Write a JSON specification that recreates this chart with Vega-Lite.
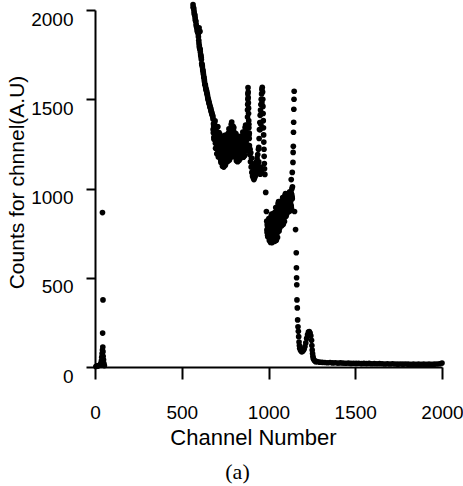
{
"$schema": "https://vega.github.io/schema/vega-lite/v6.json",
"width": 347, "height": 357,
"autosize": {"type": "none"},
"padding": {"left": 95, "top": 10, "right": 21, "bottom": 119},
"background": "white",
"config": {"view": {"stroke": null}},
"title": {"text": "(a)", "orient": "bottom", "anchor": "middle", "font": "Liberation Serif", "fontSize": 22, "fontWeight": "normal", "color": "#000", "dx": -31, "offset": 14},
"data": {"values": [
{"channel":5,"counts":3},{"channel":10,"counts":5},{"channel":15,"counts":5},{"channel":20,"counts":8},{"channel":25,"counts":10},{"channel":30,"counts":12},{"channel":34,"counts":20},{"channel":37,"counts":35},{"channel":39,"counts":55},{"channel":41,"counts":75},{"channel":43,"counts":95},{"channel":45,"counts":112},{"channel":46,"counts":85},{"channel":47,"counts":60},{"channel":49,"counts":40},{"channel":51,"counts":20},{"channel":54,"counts":8},{"channel":44,"counts":190},{"channel":46,"counts":376},{"channel":43,"counts":865},
{"channel":565,"counts":2030},{"channel":568,"counts":2012},{"channel":571,"counts":1992},{"channel":574,"counts":1975},{"channel":577,"counts":1958},{"channel":580,"counts":1940},{"channel":583,"counts":1920},{"channel":586,"counts":1905},{"channel":589,"counts":1890},{"channel":592,"counts":1880},{"channel":595,"counts":1865},{"channel":600,"counts":1900},{"channel":605,"counts":1880},{"channel":598,"counts":1830},{"channel":601,"counts":1800},{"channel":604,"counts":1781},{"channel":607,"counts":1765},{"channel":610,"counts":1745},{"channel":613,"counts":1722},{"channel":616,"counts":1695},{"channel":619,"counts":1680},{"channel":622,"counts":1660},{"channel":625,"counts":1640},{"channel":628,"counts":1622},{"channel":631,"counts":1600},{"channel":634,"counts":1582},{"channel":637,"counts":1570},{"channel":640,"counts":1555},{"channel":643,"counts":1545},{"channel":646,"counts":1530},{"channel":649,"counts":1515},{"channel":652,"counts":1500},{"channel":655,"counts":1490},{"channel":658,"counts":1478},{"channel":661,"counts":1465},{"channel":664,"counts":1455},{"channel":667,"counts":1445},{"channel":670,"counts":1432},{"channel":673,"counts":1422},{"channel":676,"counts":1412},{"channel":679,"counts":1402},
{"channel":566,"counts":2015},{"channel":569,"counts":2005},{"channel":572,"counts":1980},{"channel":575,"counts":1970},{"channel":578,"counts":1945},{"channel":581,"counts":1935},{"channel":584,"counts":1910},{"channel":587,"counts":1900},{"channel":590,"counts":1880},{"channel":593,"counts":1875},{"channel":596,"counts":1850},{"channel":599,"counts":1815},{"channel":602,"counts":1790},{"channel":606,"counts":1780},{"channel":609,"counts":1750},{"channel":612,"counts":1735},{"channel":615,"counts":1700},{"channel":618,"counts":1690},{"channel":621,"counts":1665},{"channel":624,"counts":1650},{"channel":627,"counts":1625},{"channel":630,"counts":1610},{"channel":633,"counts":1585},{"channel":636,"counts":1580},{"channel":639,"counts":1560},{"channel":642,"counts":1550},{"channel":645,"counts":1535},{"channel":648,"counts":1525},{"channel":651,"counts":1505},{"channel":654,"counts":1495},{"channel":657,"counts":1480},{"channel":660,"counts":1472},{"channel":663,"counts":1458},{"channel":666,"counts":1450},{"channel":669,"counts":1435},{"channel":672,"counts":1428},{"channel":675,"counts":1415},{"channel":678,"counts":1408},
{"channel":680,"counts":1390},{"channel":682,"counts":1312},{"channel":684,"counts":1350},{"channel":686,"counts":1276},{"channel":688,"counts":1359},{"channel":690,"counts":1306},{"channel":692,"counts":1379},{"channel":694,"counts":1253},{"channel":696,"counts":1307},{"channel":698,"counts":1259},{"channel":700,"counts":1345},{"channel":702,"counts":1194},{"channel":704,"counts":1298},{"channel":706,"counts":1258},{"channel":708,"counts":1346},{"channel":710,"counts":1212},{"channel":712,"counts":1285},{"channel":714,"counts":1179},{"channel":716,"counts":1243},{"channel":718,"counts":1290},{"channel":720,"counts":1303},{"channel":722,"counts":1180},{"channel":724,"counts":1244},{"channel":726,"counts":1146},{"channel":728,"counts":1262},{"channel":730,"counts":1198},{"channel":732,"counts":1290},{"channel":734,"counts":1152},{"channel":736,"counts":1218},{"channel":738,"counts":1173},{"channel":740,"counts":1264},{"channel":742,"counts":1120},{"channel":744,"counts":1233},{"channel":746,"counts":1199},{"channel":748,"counts":1298},{"channel":750,"counts":1165},{"channel":752,"counts":1249},{"channel":754,"counts":1142},{"channel":756,"counts":1219},{"channel":758,"counts":1278},{"channel":760,"counts":1301},{"channel":762,"counts":1172},{"channel":764,"counts":1252},{"channel":766,"counts":1152},{"channel":768,"counts":1289},{"channel":770,"counts":1226},{"channel":772,"counts":1334},{"channel":774,"counts":1187},{"channel":776,"counts":1267},{"channel":778,"counts":1223},{"channel":780,"counts":1332},{"channel":782,"counts":1174},{"channel":784,"counts":1300},{"channel":786,"counts":1266},{"channel":788,"counts":1372},{"channel":790,"counts":1236},{"channel":792,"counts":1317},{"channel":794,"counts":1204},{"channel":796,"counts":1275},{"channel":798,"counts":1327},{"channel":800,"counts":1342},{"channel":802,"counts":1211},{"channel":804,"counts":1275},{"channel":806,"counts":1176},{"channel":808,"counts":1287},{"channel":810,"counts":1224},{"channel":812,"counts":1308},{"channel":814,"counts":1179},{"channel":816,"counts":1239},{"channel":818,"counts":1198},{"channel":820,"counts":1278},{"channel":822,"counts":1150},{"channel":824,"counts":1245},{"channel":826,"counts":1215},{"channel":828,"counts":1292},{"channel":830,"counts":1185},{"channel":832,"counts":1250},{"channel":834,"counts":1168},{"channel":836,"counts":1226},{"channel":838,"counts":1270},{"channel":840,"counts":1286},{"channel":842,"counts":1190},{"channel":844,"counts":1250},{"channel":846,"counts":1173},{"channel":848,"counts":1279},{"channel":850,"counts":1230},{"channel":852,"counts":1316},{"channel":854,"counts":1197},{"channel":856,"counts":1262},{"channel":858,"counts":1225},{"channel":860,"counts":1316},{"channel":862,"counts":1184},{"channel":864,"counts":1292},{"channel":866,"counts":1264},{"channel":868,"counts":1356},{"channel":870,"counts":1240},{"channel":872,"counts":1316},{"channel":874,"counts":1224},{"channel":876,"counts":1292},{"channel":878,"counts":1344},
{"channel":681,"counts":1331},{"channel":683,"counts":1363},{"channel":685,"counts":1287},{"channel":687,"counts":1329},{"channel":689,"counts":1371},{"channel":691,"counts":1281},{"channel":693,"counts":1324},{"channel":695,"counts":1225},{"channel":697,"counts":1287},{"channel":699,"counts":1339},{"channel":701,"counts":1223},{"channel":703,"counts":1285},{"channel":705,"counts":1347},{"channel":707,"counts":1230},{"channel":709,"counts":1284},{"channel":711,"counts":1177},{"channel":713,"counts":1232},{"channel":715,"counts":1313},{"channel":717,"counts":1190},{"channel":719,"counts":1280},{"channel":721,"counts":1208},{"channel":723,"counts":1263},{"channel":725,"counts":1157},{"channel":727,"counts":1221},{"channel":729,"counts":1277},{"channel":731,"counts":1172},{"channel":733,"counts":1229},{"channel":735,"counts":1125},{"channel":737,"counts":1200},{"channel":739,"counts":1257},{"channel":741,"counts":1146},{"channel":743,"counts":1215},{"channel":745,"counts":1286},{"channel":747,"counts":1173},{"channel":749,"counts":1236},{"channel":751,"counts":1130},{"channel":753,"counts":1196},{"channel":755,"counts":1292},{"channel":757,"counts":1164},{"channel":759,"counts":1271},{"channel":761,"counts":1199},{"channel":763,"counts":1269},{"channel":765,"counts":1159},{"channel":767,"counts":1239},{"channel":769,"counts":1310},{"channel":771,"counts":1200},{"channel":773,"counts":1270},{"channel":775,"counts":1160},{"channel":777,"counts":1250},{"channel":779,"counts":1320},{"channel":781,"counts":1201},{"channel":783,"counts":1280},{"channel":785,"counts":1359},{"channel":787,"counts":1240},{"channel":789,"counts":1309},{"channel":791,"counts":1198},{"channel":793,"counts":1261},{"channel":795,"counts":1350},{"channel":797,"counts":1219},{"channel":799,"counts":1317},{"channel":801,"counts":1240},{"channel":803,"counts":1296},{"channel":805,"counts":1187},{"channel":807,"counts":1249},{"channel":809,"counts":1300},{"channel":811,"counts":1199},{"channel":813,"counts":1251},{"channel":815,"counts":1155},{"channel":817,"counts":1222},{"channel":819,"counts":1272},{"channel":821,"counts":1172},{"channel":823,"counts":1231},{"channel":825,"counts":1288},{"channel":827,"counts":1193},{"channel":829,"counts":1242},{"channel":831,"counts":1158},{"channel":833,"counts":1209},{"channel":835,"counts":1281},{"channel":837,"counts":1185},{"channel":839,"counts":1264},{"channel":841,"counts":1210},{"channel":843,"counts":1263},{"channel":845,"counts":1180},{"channel":847,"counts":1241},{"channel":849,"counts":1296},{"channel":851,"counts":1209},{"channel":853,"counts":1265},{"channel":855,"counts":1175},{"channel":857,"counts":1248},{"channel":859,"counts":1306},{"channel":861,"counts":1206},{"channel":863,"counts":1274},{"channel":865,"counts":1342},{"channel":867,"counts":1242},{"channel":869,"counts":1302},{"channel":871,"counts":1210},{"channel":873,"counts":1270},{"channel":875,"counts":1354},{"channel":877,"counts":1246},
{"channel":879,"counts":1400},{"channel":879,"counts":1440},{"channel":880,"counts":1470},{"channel":881,"counts":1500},{"channel":881,"counts":1530},{"channel":882,"counts":1565},{"channel":883,"counts":1540},{"channel":883,"counts":1510},{"channel":884,"counts":1480},{"channel":885,"counts":1450},{"channel":885,"counts":1420},{"channel":886,"counts":1380},{"channel":887,"counts":1360},{"channel":887,"counts":1340},{"channel":888,"counts":1300},{"channel":889,"counts":1310},{"channel":889,"counts":1280},
{"channel":890,"counts":1240},{"channel":892,"counts":1190},{"channel":894,"counts":1220},{"channel":896,"counts":1150},{"channel":898,"counts":1200},{"channel":900,"counts":1120},{"channel":902,"counts":1170},{"channel":904,"counts":1090},{"channel":906,"counts":1140},{"channel":908,"counts":1070},{"channel":910,"counts":1120},{"channel":912,"counts":1060},{"channel":914,"counts":1100},{"channel":916,"counts":1050},{"channel":918,"counts":1090},{"channel":920,"counts":1060},{"channel":922,"counts":1110},{"channel":924,"counts":1070},{"channel":926,"counts":1130},{"channel":928,"counts":1080},{"channel":930,"counts":1150},{"channel":932,"counts":1100},{"channel":934,"counts":1170},{"channel":936,"counts":1120},{"channel":938,"counts":1190},{"channel":940,"counts":1140},{"channel":942,"counts":1220},{"channel":944,"counts":1150},{"channel":948,"counts":1100},{"channel":952,"counts":1080},{"channel":956,"counts":1120},{"channel":960,"counts":1090},
{"channel":944,"counts":1230},{"channel":946,"counts":1280},{"channel":948,"counts":1330},{"channel":950,"counts":1370},{"channel":952,"counts":1410},{"channel":954,"counts":1440},{"channel":956,"counts":1470},{"channel":958,"counts":1500},{"channel":960,"counts":1530},{"channel":962,"counts":1555},{"channel":964,"counts":1567},{"channel":952,"counts":1330},{"channel":956,"counts":1360},{"channel":958,"counts":1420},{"channel":962,"counts":1480},
{"channel":966,"counts":1540},{"channel":967,"counts":1500},{"channel":968,"counts":1460},{"channel":969,"counts":1420},{"channel":970,"counts":1380},{"channel":971,"counts":1340},{"channel":972,"counts":1300},{"channel":973,"counts":1260},{"channel":974,"counts":1220},{"channel":975,"counts":1180},{"channel":976,"counts":1140},{"channel":977,"counts":1110},{"channel":979,"counts":1079},{"channel":984,"counts":978},{"channel":988,"counts":871},
{"channel":990,"counts":817},{"channel":992,"counts":754},{"channel":994,"counts":790},{"channel":996,"counts":730},{"channel":998,"counts":805},{"channel":1000,"counts":763},{"channel":1002,"counts":831},{"channel":1004,"counts":729},{"channel":1006,"counts":780},{"channel":1008,"counts":745},{"channel":1010,"counts":823},{"channel":1012,"counts":698},{"channel":1014,"counts":796},{"channel":1016,"counts":765},{"channel":1018,"counts":857},{"channel":1020,"counts":731},{"channel":1022,"counts":811},{"channel":1024,"counts":705},{"channel":1026,"counts":779},{"channel":1028,"counts":838},{"channel":1030,"counts":861},{"channel":1032,"counts":727},{"channel":1034,"counts":809},{"channel":1036,"counts":704},{"channel":1038,"counts":846},{"channel":1040,"counts":780},{"channel":1042,"counts":893},{"channel":1044,"counts":738},{"channel":1046,"counts":820},{"channel":1048,"counts":775},{"channel":1050,"counts":886},{"channel":1052,"counts":726},{"channel":1054,"counts":855},{"channel":1056,"counts":822},{"channel":1058,"counts":927},{"channel":1060,"counts":795},{"channel":1062,"counts":880},{"channel":1064,"counts":778},{"channel":1066,"counts":852},{"channel":1068,"counts":908},{"channel":1070,"counts":928},{"channel":1072,"counts":812},{"channel":1074,"counts":882},{"channel":1076,"counts":792},{"channel":1078,"counts":912},{"channel":1080,"counts":856},{"channel":1082,"counts":949},{"channel":1084,"counts":822},{"channel":1086,"counts":889},{"channel":1088,"counts":853},{"channel":1090,"counts":942},{"channel":1092,"counts":815},{"channel":1094,"counts":916},{"channel":1096,"counts":890},{"channel":1098,"counts":971},{"channel":1100,"counts":869},{"channel":1102,"counts":933},{"channel":1104,"counts":856},{"channel":1106,"counts":912},{"channel":1108,"counts":952},{"channel":1110,"counts":966},{"channel":1112,"counts":882},{"channel":1114,"counts":933},{"channel":1116,"counts":870},{"channel":1118,"counts":955},{"channel":1120,"counts":916},{"channel":1122,"counts":981},{"channel":1124,"counts":891},{"channel":1126,"counts":939},{"channel":1128,"counts":913},{"channel":1130,"counts":978},{"channel":1132,"counts":890},{"channel":1134,"counts":966},{"channel":1136,"counts":952},{"channel":1138,"counts":1010},
{"channel":991,"counts":769},{"channel":993,"counts":800},{"channel":995,"counts":738},{"channel":997,"counts":778},{"channel":999,"counts":817},{"channel":1001,"counts":745},{"channel":1003,"counts":787},{"channel":1005,"counts":708},{"channel":1007,"counts":767},{"channel":1009,"counts":816},{"channel":1011,"counts":721},{"channel":1013,"counts":781},{"channel":1015,"counts":845},{"channel":1017,"counts":741},{"channel":1019,"counts":800},{"channel":1021,"counts":697},{"channel":1023,"counts":759},{"channel":1025,"counts":852},{"channel":1027,"counts":724},{"channel":1029,"counts":830},{"channel":1031,"counts":755},{"channel":1033,"counts":827},{"channel":1035,"counts":713},{"channel":1037,"counts":795},{"channel":1039,"counts":868},{"channel":1041,"counts":752},{"channel":1043,"counts":825},{"channel":1045,"counts":710},{"channel":1047,"counts":803},{"channel":1049,"counts":875},{"channel":1051,"counts":752},{"channel":1053,"counts":834},{"channel":1055,"counts":914},{"channel":1057,"counts":797},{"channel":1059,"counts":865},{"channel":1061,"counts":762},{"channel":1063,"counts":829},{"channel":1065,"counts":921},{"channel":1067,"counts":803},{"channel":1069,"counts":901},{"channel":1071,"counts":836},{"channel":1073,"counts":898},{"channel":1075,"counts":800},{"channel":1077,"counts":869},{"channel":1079,"counts":929},{"channel":1081,"counts":833},{"channel":1083,"counts":893},{"channel":1085,"counts":800},{"channel":1087,"counts":875},{"channel":1089,"counts":933},{"channel":1091,"counts":836},{"channel":1093,"counts":900},{"channel":1095,"counts":962},{"channel":1097,"counts":871},{"channel":1099,"counts":923},{"channel":1101,"counts":844},{"channel":1103,"counts":894},{"channel":1105,"counts":962},{"channel":1107,"counts":875},{"channel":1109,"counts":947},{"channel":1111,"counts":900},{"channel":1113,"counts":944},{"channel":1115,"counts":875},{"channel":1117,"counts":925},{"channel":1119,"counts":968},{"channel":1121,"counts":900},{"channel":1123,"counts":942},{"channel":1125,"counts":875},{"channel":1127,"counts":929},{"channel":1129,"counts":971},{"channel":1131,"counts":902},{"channel":1133,"counts":953},{"channel":1135,"counts":998},{"channel":1137,"counts":943},
{"channel":1131,"counts":1050},{"channel":1137,"counts":1090},{"channel":1141,"counts":1146},{"channel":1142,"counts":1202},{"channel":1143,"counts":1236},{"channel":1144,"counts":1315},{"channel":1145,"counts":1371},{"channel":1146,"counts":1444},{"channel":1147,"counts":1500},{"channel":1148,"counts":1545},
{"channel":1150,"counts":871},{"channel":1156,"counts":770},{"channel":1160,"counts":640},{"channel":1161,"counts":556},{"channel":1162,"counts":500},{"channel":1163,"counts":461},{"channel":1164,"counts":376},{"channel":1166,"counts":331},{"channel":1168,"counts":264},{"channel":1170,"counts":225},
{"channel":1172,"counts":200},{"channel":1174,"counts":170},{"channel":1176,"counts":140},{"channel":1178,"counts":120},{"channel":1180,"counts":105},{"channel":1184,"counts":95},{"channel":1188,"counts":90},{"channel":1192,"counts":85},{"channel":1196,"counts":88},{"channel":1200,"counts":92},{"channel":1205,"counts":100},{"channel":1210,"counts":115},{"channel":1215,"counts":135},{"channel":1220,"counts":160},{"channel":1225,"counts":180},{"channel":1230,"counts":195},{"channel":1235,"counts":198},{"channel":1240,"counts":190},{"channel":1244,"counts":175},{"channel":1248,"counts":150},{"channel":1250,"counts":120},{"channel":1252,"counts":95},{"channel":1254,"counts":75},{"channel":1256,"counts":60},{"channel":1258,"counts":48},{"channel":1262,"counts":40},{"channel":1266,"counts":35},{"channel":1272,"counts":30},
{"channel":1280,"counts":30},{"channel":1295,"counts":27},{"channel":1310,"counts":26},{"channel":1325,"counts":25},{"channel":1340,"counts":24},{"channel":1355,"counts":25},{"channel":1370,"counts":23},{"channel":1385,"counts":24},{"channel":1400,"counts":22},{"channel":1415,"counts":23},{"channel":1430,"counts":22},{"channel":1445,"counts":21},{"channel":1460,"counts":22},{"channel":1475,"counts":20},{"channel":1490,"counts":21},{"channel":1505,"counts":20},{"channel":1520,"counts":21},{"channel":1535,"counts":19},{"channel":1550,"counts":20},{"channel":1565,"counts":19},{"channel":1580,"counts":20},{"channel":1595,"counts":18},{"channel":1610,"counts":19},{"channel":1625,"counts":18},{"channel":1640,"counts":19},{"channel":1655,"counts":18},{"channel":1670,"counts":17},{"channel":1685,"counts":18},{"channel":1700,"counts":17},{"channel":1715,"counts":18},{"channel":1730,"counts":17},{"channel":1745,"counts":16},{"channel":1760,"counts":17},{"channel":1775,"counts":16},{"channel":1790,"counts":17},{"channel":1805,"counts":16},{"channel":1820,"counts":15},{"channel":1835,"counts":16},{"channel":1850,"counts":15},{"channel":1865,"counts":16},{"channel":1880,"counts":15},{"channel":1895,"counts":16},{"channel":1910,"counts":15},{"channel":1925,"counts":16},{"channel":1940,"counts":15},{"channel":1955,"counts":16},{"channel":1970,"counts":17},{"channel":1985,"counts":18},{"channel":2000,"counts":22}
]},
"mark": {"type": "circle", "size": 32, "color": "#000", "opacity": 1},
"encoding": {
"x": {"field": "channel", "type": "quantitative", "scale": {"domain": [0, 2000], "nice": false, "zero": false},
 "axis": {"values": [0, 500, 1000, 1500, 2000], "format": "d", "title": "Channel Number", "titleFont": "Liberation Sans", "titleFontSize": 22, "titleFontWeight": "normal", "titleColor": "#000", "titleX": 158, "titleY": 77, "titleBaseline": "alphabetic", "titleAnchor": "middle",
  "labelFont": "Liberation Sans", "labelFontSize": 19, "labelColor": "#000", "labelPadding": 24, "labelFlush": false, "labelOverlap": false,
  "tickSize": 12, "tickWidth": 2, "tickColor": "#000", "domainColor": "#000", "domainWidth": 2, "grid": false}},
"y": {"field": "counts", "type": "quantitative", "scale": {"domain": [0, 2000], "nice": false, "zero": false},
 "axis": {"values": [0, 500, 1000, 1500, 2000], "format": "d", "title": "Counts for chnnel(A.U)", "titleFont": "Liberation Sans", "titleFontSize": 21, "titleFontWeight": "normal", "titleColor": "#000", "titleX": -72, "titleY": 172, "titleBaseline": "alphabetic", "titleAngle": 270, "titleAnchor": "middle",
  "labelFont": "Liberation Sans", "labelFontSize": 19, "labelColor": "#000", "labelPadding": 13, "labelOffset": 9, "labelFlush": false, "labelOverlap": false,
  "tickSize": 9, "tickWidth": 2, "tickColor": "#000", "domainColor": "#000", "domainWidth": 2, "grid": false}}
}
}
